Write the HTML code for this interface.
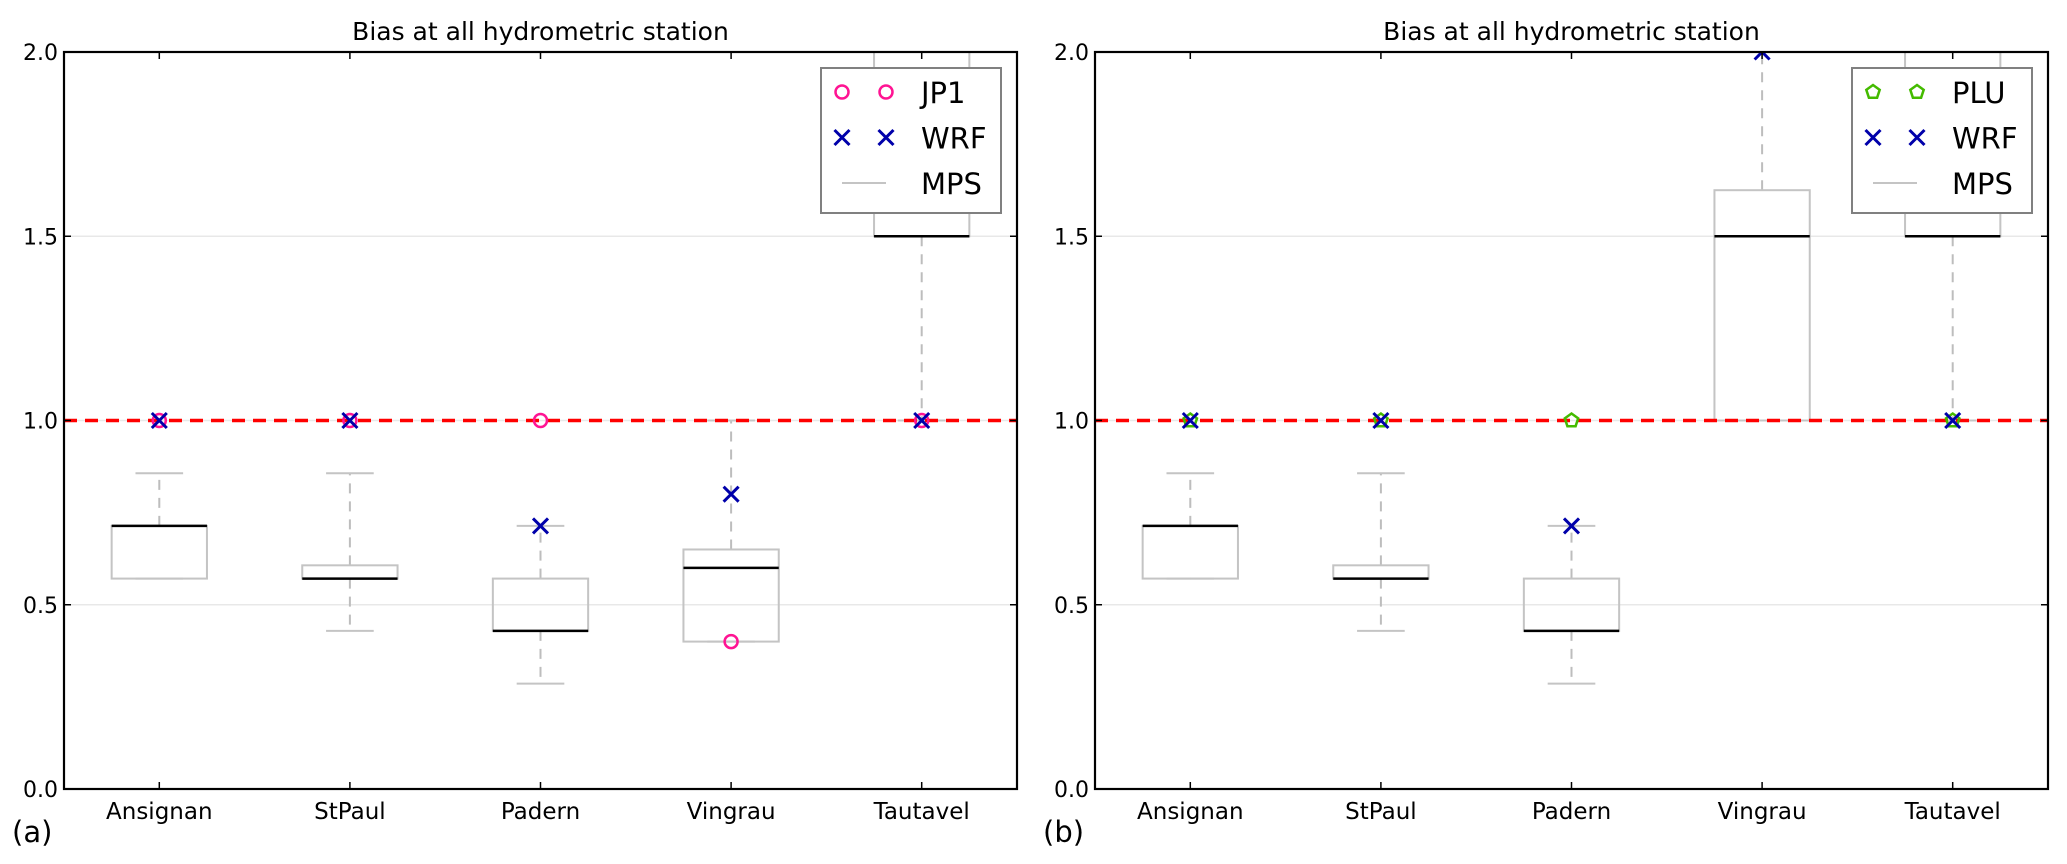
<!DOCTYPE html>
<html><head><meta charset="utf-8"><style>
html,body{margin:0;padding:0;background:#fff;}
svg{display:block;font-family:"DejaVu Sans","Liberation Sans",sans-serif;}
</style></head><body>
<svg id="chart" width="2067" height="864" viewBox="0 0 2067 864" xmlns="http://www.w3.org/2000/svg"></svg>
<script>
const categories = ["Ansignan","StPaul","Padern","Vingrau","Tautavel"];
const yTicks = [0.0,0.5,1.0,1.5,2.0];
const yTickLabels = ["0.0","0.5","1.0","1.5","2.0"];
// panel a MPS box stats
const aWhiskLow = [0.571,0.429,0.286,0.4,1.0];
const aQ1 = [0.571,0.571,0.429,0.4,1.5];
const aMedian = [0.714,0.571,0.429,0.6,1.5];
const aQ3 = [0.714,0.607,0.571,0.65,2.5];
const aWhiskHigh = [0.857,0.857,0.714,1.0,3.0];
const aJP1 = [1.0,1.0,1.0,0.4,1.0];
const aWRF = [1.0,1.0,0.714,0.8,1.0];
// panel b MPS box stats
const bWhiskLow = [0.571,0.429,0.286,1.0,1.0];
const bQ1 = [0.571,0.571,0.429,1.0,1.5];
const bMedian = [0.714,0.571,0.429,1.5,1.5];
const bQ3 = [0.714,0.607,0.571,1.625,2.5];
const bWhiskHigh = [0.857,0.857,0.714,2.5,3.0];
const bPLU = [1.0,1.0,1.0,null,1.0];
const bWRF = [1.0,1.0,0.714,2.0,1.0];
const refLine = 1.0;

const NS="http://www.w3.org/2000/svg";
const svg=document.getElementById('chart');
function mk(tag,attrs,parent){const e=document.createElementNS(NS,tag);for(const k in attrs)e.setAttribute(k,attrs[k]);(parent||svg).appendChild(e);return e;}

function panel(left,label,stats,m1,m1name,m1kind,wrf,prefix){
  const top=52,bottom=789,w=953,right=left+w;
  const g=mk('g',{});
  
  
  const clipId='clip-'+prefix;
  const cp=mk('clipPath',{id:clipId},g);
  mk('rect',{x:left,y:top,width:w,height:bottom-top},cp);
  const xs=i=>left+(i+0.5)*w/categories.length;
  const ys=v=>bottom-(v-0)/(2-0)*(bottom-top);
  const unit=w/categories.length;
  const plot=mk('g',{'clip-path':'url(#'+clipId+')'},g);
  // grid
  yTicks.forEach(t=>{const l=mk('line',{x1:left,x2:right,y1:ys(t),y2:ys(t),stroke:'#e8e8e8','stroke-width':1.5},plot);
    });
  // boxes
  categories.forEach((c,i)=>{
    const x=xs(i);const bg=mk('g',{},plot);
    
    
    mk('line',{x1:x,x2:x,y1:ys(stats.q3[i]),y2:ys(stats.hi[i]),stroke:'#bdbdbd','stroke-width':2,'stroke-dasharray':'10,8'},bg);
    mk('line',{x1:x,x2:x,y1:ys(stats.q1[i]),y2:ys(stats.lo[i]),stroke:'#bdbdbd','stroke-width':2,'stroke-dasharray':'10,8'},bg);
    mk('line',{x1:x-unit*0.125,x2:x+unit*0.125,y1:ys(stats.hi[i]),y2:ys(stats.hi[i]),stroke:'#c4c4c4','stroke-width':2},bg);
    mk('line',{x1:x-unit*0.125,x2:x+unit*0.125,y1:ys(stats.lo[i]),y2:ys(stats.lo[i]),stroke:'#c4c4c4','stroke-width':2},bg);
    mk('rect',{x:x-unit*0.25,y:ys(stats.q3[i]),width:unit*0.5,height:ys(stats.q1[i])-ys(stats.q3[i]),fill:'none',stroke:'#c4c4c4','stroke-width':2},bg);
    mk('line',{x1:x-unit*0.25,x2:x+unit*0.25,y1:ys(stats.med[i]),y2:ys(stats.med[i]),stroke:'#000','stroke-width':2.5},bg);
  });
  // ref line
  const rl=mk('line',{x1:left,x2:right,y1:ys(refLine),y2:ys(refLine),stroke:'#ff0000','stroke-width':3.5,'stroke-dasharray':'13,8'},plot);
  
  // markers
  function drawMarker(kind,cx,cy,par){
    if(kind==='circle')return mk('circle',{cx:cx,cy:cy,r:6.5,fill:'none',stroke:'#ff1493','stroke-width':2.5},par);
    if(kind==='pent'){let p=[];for(let k=0;k<5;k++){const a=-Math.PI/2+k*2*Math.PI/5;p.push((cx+7*Math.cos(a)).toFixed(1)+','+(cy+7*Math.sin(a)).toFixed(1));}
      return mk('polygon',{points:p.join(' '),fill:'none',stroke:'#44bb00','stroke-width':2.5},par);}
    const s=7.5;return mk('path',{d:`M${cx-s},${cy-s}L${cx+s},${cy+s}M${cx-s},${cy+s}L${cx+s},${cy-s}`,stroke:'#0000aa','stroke-width':3},par);
  }
  m1.forEach((v,i)=>{if(v==null)return;const e=drawMarker(m1kind,xs(i),ys(v),plot);
    });
  wrf.forEach((v,i)=>{if(v==null)return;const e=drawMarker('x',xs(i),ys(v),plot);
    });
  // frame
  const fr=mk('rect',{x:left,y:top,width:w,height:bottom-top,fill:'none',stroke:'#000','stroke-width':2.2},g);
  
  // y ticks
  yTicks.forEach((t,i)=>{const y=ys(t);
    mk('line',{x1:left,x2:left+7,y1:y,y2:y,stroke:'#000','stroke-width':1.5},g);
    mk('line',{x1:right-7,x2:right,y1:y,y2:y,stroke:'#000','stroke-width':1.5},g);
    const tx=mk('text',{x:left-6,y:y+8,'text-anchor':'end','font-size':22,fill:'#000'},g);tx.textContent=yTickLabels[i];
    });
  categories.forEach((c,i)=>{const x=xs(i);
    mk('line',{x1:x,x2:x,y1:bottom,y2:bottom-7,stroke:'#000','stroke-width':1.5},g);
    mk('line',{x1:x,x2:x,y1:top,y2:top+7,stroke:'#000','stroke-width':1.5},g);
    const tx=mk('text',{x:x,y:bottom+30,'text-anchor':'middle','font-size':23,fill:'#000'},g);tx.textContent=c;
    });
  const ti=mk('text',{x:left+w/2,y:40,'text-anchor':'middle','font-size':25,fill:'#000'},g);ti.textContent='Bias at all hydrometric station';
  
  const pl=mk('text',{x:left-52,y:842,'font-size':29,fill:'#000'},g);pl.textContent=label;
  
  // legend
  const lg=mk('g',{},g);
  
  const lx=right-196,ly=68;
  mk('rect',{x:lx,y:ly,width:180,height:145,fill:'#fff',stroke:'#808080','stroke-width':2},lg);
  const rows=[[m1name,m1kind],['WRF','x'],['MPS','line']];
  rows.forEach((r,k)=>{const y=ly+24+k*45.5;const e=mk('g',{},lg);
    
    if(r[1]==='line')mk('line',{x1:lx+21,x2:lx+65,y1:y,y2:y,stroke:'#c4c4c4','stroke-width':2},e);
    else{drawMarker(r[1],lx+21,y,e);drawMarker(r[1],lx+65,y,e);}
    const t=mk('text',{x:lx+100,y:y+11,'font-size':29,fill:'#000'},e);t.textContent=r[0];});
}
panel(64,'(a)',{lo:aWhiskLow,q1:aQ1,med:aMedian,q3:aQ3,hi:aWhiskHigh},aJP1,'JP1','circle',aWRF,'a');
panel(1095,'(b)',{lo:bWhiskLow,q1:bQ1,med:bMedian,q3:bQ3,hi:bWhiskHigh},bPLU,'PLU','pent',bWRF,'b');
</script>
</body></html>
